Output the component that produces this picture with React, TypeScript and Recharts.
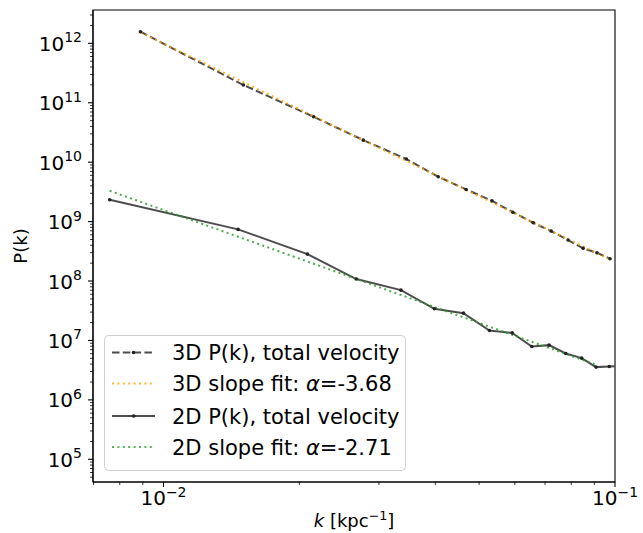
import { LineChart, Line, XAxis, YAxis, Legend, ReferenceArea, Label } from "recharts"

// 3D power spectrum, total velocity
const k3d = [0.00889, 0.01503, 0.0215, 0.0277, 0.0345, 0.0406, 0.0468, 0.0534, 0.0594, 0.0659, 0.0722, 0.0787, 0.085, 0.0912, 0.0975]
const p3d = [1.57e12, 1.99e11, 5.81e10, 2.35e10, 1.13e10, 5.68e9, 3.48e9, 2.24e9, 1.44e9, 9.55e8, 6.92e8, 4.9e8, 3.55e8, 2.99e8, 2.37e8]

// 2D power spectrum, total velocity (last point runs past the axis edge)
const k2d = [0.0076, 0.01463, 0.02083, 0.02673, 0.03357, 0.0398, 0.04617, 0.05272, 0.0592, 0.06541, 0.07145, 0.07779, 0.08438, 0.09078, 0.09714, 0.1035]
const p2d = [2.33e9, 7.4e8, 2.84e8, 1.08e8, 7.03e7, 3.41e7, 2.88e7, 1.47e7, 1.34e7, 7.92e6, 8.34e6, 6.04e6, 5.04e6, 3.56e6, 3.65e6, 3.7e6]

// slope fits (end points)
const fit3k = [0.00889, 0.0975]
const fit3p = [1.53e12, 2.3e8]
const fit2k = [0.0076, 0.0908]
const fit2p = [3.3e9, 3.9e6]

const legendLabels = ["3D P(k), total velocity", "3D slope fit: ", "2D P(k), total velocity", "2D slope fit: "]
const fitSlopes = ["-3.68", "-2.71"]

const X_DOMAIN: [number, number] = [0.00698, 0.1]
const Y_DOMAIN: [number, number] = [4.15e4, 3.64e12]
const X_DECADES = [-3, -2, -1]
const Y_DECADES = [4, 5, 6, 7, 8, 9, 10, 11, 12]
const MULTS = [1, 2, 3, 4, 5, 6, 7, 8, 9]

const toRows = (ks: number[], ps: number[]) => ks.map((k, i) => ({ k, p: ps[i] }))

const inDomain = (v: number, d: [number, number]) => v >= d[0] * 0.9999 && v <= d[1] * 1.0001
const xTicks = X_DECADES.flatMap((e) => MULTS.map((m) => m * Math.pow(10, e))).filter((v) => inDomain(v, X_DOMAIN))
const yTicks = Y_DECADES.flatMap((e) => MULTS.map((m) => m * Math.pow(10, e))).filter((v) => inDomain(v, Y_DOMAIN))

const FONT = "DejaVu Sans"
const GRAY = "#4d4d4d"
const TICK_FS = 20
const SUP_FS = 14

function expOf(v: number) {
        const e = Math.round(Math.log10(v))
        return { e, major: Math.abs(Math.log10(v) - e) < 1e-6 }
}

const fmtExp = (e: number) => (e < 0 ? `\u2212${-e}` : `${e}`)

function XTick({ x, y, payload }: any) {
        const { e, major } = expOf(payload.value)
        return (
                <g>
                        <line x1={x} x2={x} y1={y} y2={y + (major ? 5 : 3)} stroke="#000" strokeWidth={major ? 1.1 : 0.8} />
                        {major && (
                                <text x={x} y={y + 23} textAnchor="middle" fontSize={TICK_FS} fill="#000" fontFamily={FONT}>
                                        10<tspan dy={-8} fontSize={SUP_FS}>{fmtExp(e)}</tspan>
                                </text>
                        )}
                </g>
        )
}

function YTick({ x, y, payload }: any) {
        const { e, major } = expOf(payload.value)
        return (
                <g>
                        <line x1={x} x2={x - (major ? 5 : 3)} y1={y} y2={y} stroke="#000" strokeWidth={major ? 1.1 : 0.8} />
                        {major && (
                                <text x={x - 11} y={y + 7.5} textAnchor="end" fontSize={TICK_FS} fill="#000" fontFamily={FONT}>
                                        10<tspan dy={-8.5} fontSize={SUP_FS}>{fmtExp(e)}</tspan>
                                </text>
                        )}
                </g>
        )
}

function XLabel({ viewBox }: any) {
        const cx = viewBox.x + viewBox.width / 2
        return (
                <text x={cx} y={viewBox.y + 45} textAnchor="middle" fontSize={18} fill="#000" fontFamily={FONT}>
                        <tspan fontStyle="italic">k</tspan> [kpc<tspan dy={-7} fontSize={12.6}>{"\u22121"}</tspan><tspan dy={7}>]</tspan>
                </text>
        )
}

function YLabel({ viewBox }: any) {
        const cy = viewBox.y + viewBox.height / 2
        return (
                <text x={27} y={cy} transform={`rotate(-90 27 ${cy})`} textAnchor="middle" fontSize={18} fill="#000" fontFamily={FONT}>
                        P(k)
                </text>
        )
}

// ─── Legend ──────────────────────────────────────────────────────────────────
function LegendBox() {
        const rowY = [17.5, 48.5, 81, 112]
        const handles = [
                { stroke: GRAY, dash: "7.5 3.3", dot: true, opacity: 1 },
                { stroke: "#ffa500", dash: "2 3.4", dot: false, opacity: 0.8 },
                { stroke: GRAY, dash: undefined, dot: true, opacity: 1 },
                { stroke: "#2ca02c", dash: "2 3.4", dot: false, opacity: 0.8 },
        ]
        return (
                <svg width={302} height={136} style={{ display: "block" }}>
                        <rect x={0.5} y={0.5} width={301} height={135} rx={4} fill="#fff" fillOpacity={0.8} stroke="#d0d0d0" />
                        {handles.map((h, i) => (
                                <g key={i}>
                                        <line x1={8} x2={51} y1={rowY[i]} y2={rowY[i]} stroke={h.stroke} strokeWidth={2} strokeDasharray={h.dash} strokeOpacity={h.opacity} />
                                        {h.dot && <circle cx={29.5} cy={rowY[i]} r={1.8} fill="#222" />}
                                        <text x={68} y={rowY[i] + 7.5} fontSize={21} fill="#000" fontFamily={FONT}>
                                                {legendLabels[i]}
                                                {i % 2 === 1 && (
                                                        <>
                                                                <tspan fontStyle="italic">α</tspan>={fitSlopes[(i - 1) / 2]}
                                                        </>
                                                )}
                                        </text>
                                </g>
                        ))}
                </svg>
        )
}

export default function App() {
        const dot = { r: 1.8, fill: "#222", stroke: "none", strokeWidth: 0 }
        return (
                <div style={{ width: 643, height: 533, fontFamily: FONT, background: "#fff" }}>
                        <style>{`body{margin:0}`}</style>
                        <LineChart width={643} height={533} margin={{ top: 10, right: 28, bottom: 0, left: 0 }}>
                                <XAxis
                                        dataKey="k"
                                        type="number"
                                        scale="log"
                                        domain={X_DOMAIN}
                                        allowDataOverflow
                                        ticks={xTicks}
                                        interval={0}
                                        tick={<XTick />}
                                        tickLine={false}
                                        tickSize={0}
                                        tickMargin={0}
                                        axisLine={{ stroke: "#000", strokeWidth: 1.1 }}
                                        height={51}
                                >
                                        <Label content={<XLabel />} />
                                </XAxis>
                                <YAxis
                                        dataKey="p"
                                        type="number"
                                        scale="log"
                                        domain={Y_DOMAIN}
                                        allowDataOverflow
                                        ticks={yTicks}
                                        interval={0}
                                        tick={<YTick />}
                                        tickLine={false}
                                        tickSize={0}
                                        tickMargin={0}
                                        axisLine={{ stroke: "#000", strokeWidth: 1.1 }}
                                        width={93}
                                >
                                        <Label content={<YLabel />} />
                                </YAxis>

                                <ReferenceArea x1={X_DOMAIN[0]} x2={X_DOMAIN[1]} y1={Y_DOMAIN[0]} y2={Y_DOMAIN[1]} fill="none" stroke="#000" strokeWidth={1.1} />

                                <Line data={toRows(k3d, p3d)} dataKey="p" stroke={GRAY} strokeWidth={2} strokeDasharray="7.5 3.3" dot={dot} isAnimationActive={false} />
                                <Line data={toRows(fit3k, fit3p)} dataKey="p" stroke="#ffa500" strokeOpacity={0.85} strokeWidth={2} strokeDasharray="2 3.4" dot={false} isAnimationActive={false} />
                                <Line data={toRows(k2d, p2d)} dataKey="p" stroke={GRAY} strokeWidth={2} dot={dot} isAnimationActive={false} />
                                <Line data={toRows(fit2k, fit2p)} dataKey="p" stroke="#2ca02c" strokeOpacity={0.85} strokeWidth={2} strokeDasharray="2 3.4" dot={false} isAnimationActive={false} />

                                <Legend
                                        layout="vertical"
                                        align="center"
                                        verticalAlign="middle"
                                        content={<LegendBox />}
                                        wrapperStyle={{ left: 104, top: 335, width: 302, height: 136 }}
                                />
                        </LineChart>
                </div>
        )
}
